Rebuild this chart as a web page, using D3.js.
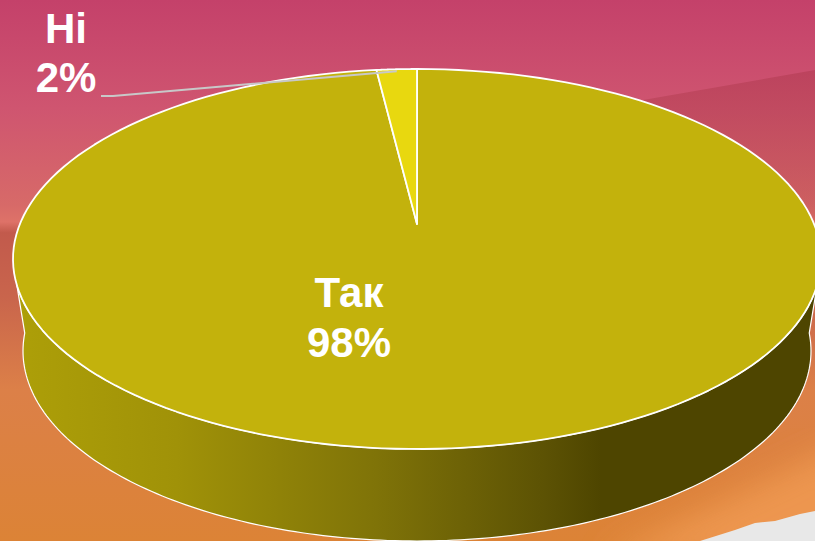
<!DOCTYPE html>
<html lang="uk">
<head>
<meta charset="UTF-8">
<title>Так / Ні</title>
<script src="https://d3js.org/d3.v7.min.js"></script>
<style>
  html, body { margin: 0; padding: 0; overflow: hidden; }
  svg { display: block; }
  text { font-family: "Liberation Sans", Arial, sans-serif; font-weight: bold; fill: #fff; font-size: 42px; text-anchor: middle; }
</style>
</head>
<body>
<div id="chart"></div>
<script>
const categories = ["Так", "Ні"];
const shares = [0.984, 0.016];
const sliceColors = ["#c3b20c", "#e8d80f"];

const width = 815, height = 541;

// tilted pie: top ellipse, bottom rim and the point the slices meet at
const top3d = { cx: 417, cy: 259, rx: 404, ry: 190 };
const bottom3d = { cx: 417, cy: 351, rx: 394, ry: 190 };
const apex = [417, 224];
const labelPos = [[349, 307, 357], [66, 43, 92]];

const svg = d3.select("#chart").append("svg")
  .attr("width", width).attr("height", height);

const defs = svg.append("defs");

function gradient(id, dir, stops) {
  const g = defs.append("linearGradient").attr("id", id)
    .attr("x1", 0).attr("y1", 0)
    .attr("x2", dir == "h" ? 1 : 0).attr("y2", dir == "h" ? 0 : 1);
  stops.forEach(s => g.append("stop").attr("offset", s[0]).attr("stop-color", s[1]).attr("stop-opacity", s[2] === undefined ? 1 : s[2]));
}

gradient("bg", "v", [
  [0, "#c4416a"], [0.2, "#cf5570"], [0.38, "#d76a68"], [0.41, "#de7268"],
  [0.43, "#c25a4c"], [0.55, "#c9654c"], [0.72, "#dc8048"], [1, "#dc8336"]
]);
gradient("bandFade", "v", [[0, "#b03a50", 0.55], [0.6, "#b84a50", 0.35], [1, "#c05a50", 0]]);
gradient("wall", "h", [
  [0, "#ad9f08"], [0.2, "#a09208"], [0.45, "#7f7308"],
  [0.66, "#5c5204"], [0.73, "#4e4500"], [1, "#4e4500"]
]);
defs.append("filter").attr("id", "soft")
  .append("feGaussianBlur").attr("stdDeviation", 16);

// background picture
const bg = svg.append("g");
bg.append("rect").attr("width", width).attr("height", height).attr("fill", "url(#bg)");
const band = d3.line();
bg.append("path").attr("d", band([[620, 104], [815, 70], [815, 280], [620, 280]]))
  .attr("fill", "url(#bandFade)");
// lighter orange towards the bottom right corner
bg.append("path").attr("d", band([[600, 560], [850, 440], [850, 560]]))
  .attr("fill", "#f09a52").attr("opacity", 0.85).attr("filter", "url(#soft)");
bg.append("path").attr("d", band([[700, 541], [735, 530], [755, 523], [775, 521], [800, 514], [815, 511], [815, 541]]))
  .attr("fill", "#e8e8e8");

const pie = d3.pie().sort(null).value(d => d);
const slices = pie(shares);

function rimPoint(e, a) {
  return [e.cx + e.rx * Math.sin(a), e.cy - e.ry * Math.cos(a)];
}
const angles = (a0, a1) => d3.range(0, 181).map(i => a0 + (a1 - a0) * i / 180);

// side wall, lower half of the rim only
const wallPts = angles(Math.PI * 0.544, Math.PI * 1.456).map(a => rimPoint(top3d, a))
  .concat(angles(Math.PI * 1.53, Math.PI * 0.47).map(a => rimPoint(bottom3d, a)));
svg.append("path")
  .attr("d", d3.line()(wallPts) + "Z")
  .attr("fill", "url(#wall)")
  .attr("stroke", "#fff").attr("stroke-width", 1.2);

// top face
svg.selectAll("path.slice").data(slices).enter().append("path")
  .attr("class", "slice")
  .attr("d", d => d3.line()([apex].concat(angles(d.startAngle, d.endAngle).map(a => rimPoint(top3d, a)))) + "Z")
  .attr("fill", (d, i) => sliceColors[i])
  .attr("stroke", "#fff").attr("stroke-width", 1.8).attr("stroke-linejoin", "round");

// leader for the small slice
const small = slices[1];
const mid = rimPoint(top3d, (small.startAngle + small.endAngle) / 2);
svg.append("path")
  .attr("d", d3.line()([[101, 96], [113, 96], [mid[0], mid[1] + 2]]))
  .attr("fill", "none").attr("stroke", "#c8c8c8").attr("stroke-width", 2);

// labels
const pct = d3.format(".0%");
categories.forEach((c, i) => {
  const p = labelPos[i];
  svg.append("text").attr("x", p[0]).attr("y", p[1]).text(c);
  svg.append("text").attr("x", p[0]).attr("y", p[2]).text(pct(shares[i]));
});
</script>
</body>
</html>
